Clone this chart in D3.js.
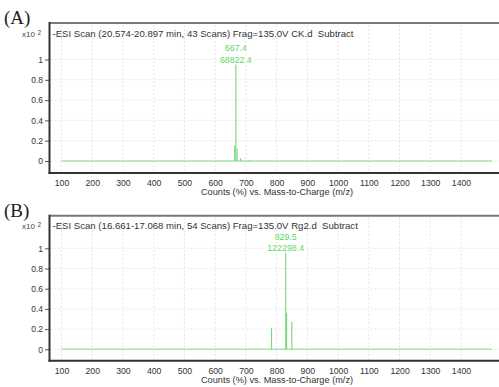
<!DOCTYPE html>
<html>
<head>
<meta charset="utf-8">
<script src="https://cdn.jsdelivr.net/npm/d3@7"></script>
<style>
  body { margin: 0; background: #fff; }
  svg { display: block; font-family: "Liberation Sans", Arial, sans-serif; }
</style>
</head>
<body>
<svg id="chart" width="499" height="387"></svg>
<script>
// m/z axis ticks and relative-abundance ticks (x10^2 %)
const mzTicks = [100, 200, 300, 400, 500, 600, 700, 800, 900, 1000, 1100, 1200, 1300, 1400];
const relTicks = [0, 0.2, 0.4, 0.6, 0.8, 1];
const mzRange = [100, 1500];

const panelLabels = ["(A)", "(B)"];
const scanTitles = [
  "-ESI Scan (20.574-20.897 min, 43 Scans) Frag=135.0V CK.d  Subtract",
  "-ESI Scan (16.661-17.068 min, 54 Scans) Frag=135.0V Rg2.d  Subtract"
];
const xAxisTitle = "Counts (%) vs. Mass-to-Charge (m/z)";

// Peak lists: m/z and absolute counts
const peakMzA = [663.4, 667.4, 671.4, 682.4, 711.4];
const peakCountsA = [10300, 68822.4, 8250, 2050, 700];
const peakMzB = [783.5, 829.5, 832.5, 849.5];
const peakCountsB = [25700, 122298.4, 44000, 33000];

const svg = d3.select("#chart");

// shared m/z scale
const x = d3.scaleLinear().domain([100, 1400]).range([61.5, 461]);

const panels = [
  { label: panelLabels[0], title: scanTitles[0], mz: peakMzA, counts: peakCountsA,
    top: 23, zero: 161, one: 59.5, axisY: 173 },
  { label: panelLabels[1], title: scanTitles[1], mz: peakMzB, counts: peakCountsB,
    top: 215.7, zero: 349.3, one: 248.3, axisY: 360.7 }
];

const plotLeft = 49.5, plotRight = 499;
const green = "#78d878";

panels.forEach(p => {
  const g = svg.append("g");
  const y = d3.scaleLinear().domain([0, 1]).range([p.zero, p.one]);

  // panel tag
  g.append("text")
    .attr("x", 4).attr("y", p.top + 1)
    .attr("font-family", "'Liberation Serif', 'Times New Roman', serif")
    .attr("font-size", 19).attr("fill", "#222")
    .text(p.label);

  // gridlines
  g.append("g").selectAll("line").data(mzTicks).join("line")
    .attr("x1", d => x(d)).attr("x2", d => x(d))
    .attr("y1", p.top + 2).attr("y2", p.axisY - 1)
    .attr("stroke", "#e4e4e4").attr("stroke-dasharray", "2,2");
  g.append("g").selectAll("line").data(relTicks).join("line")
    .attr("x1", plotLeft + 1).attr("x2", plotRight)
    .attr("y1", d => y(d)).attr("y2", d => y(d))
    .attr("stroke", "#e4e4e4").attr("stroke-dasharray", "2,2");

  // top frame line
  g.append("line")
    .attr("x1", plotLeft).attr("x2", plotRight)
    .attr("y1", p.top).attr("y2", p.top)
    .attr("stroke", "#7a7a7a").attr("stroke-width", 2);

  // y axis
  const yAxis = d3.axisLeft(y).tickValues(relTicks).tickSize(4).tickPadding(2)
    .tickFormat(d => d === 0 ? "0" : d3.format("~g")(d));
  const ya = g.append("g").attr("transform", `translate(${plotLeft - 0.5},0)`).call(yAxis);
  ya.select(".domain").remove();
  ya.selectAll(".tick line").attr("stroke", "#555");
  ya.selectAll(".tick text").attr("font-size", 8.5).attr("fill", "#333")
    .attr("font-family", "'Liberation Sans', Arial, sans-serif");

  // exponent label
  g.append("text").attr("x", 35).attr("y", p.top + 13.5)
    .attr("text-anchor", "end").attr("font-size", 8).attr("fill", "#444").text("x10");
  g.append("text").attr("x", 37.5).attr("y", p.top + 11.5)
    .attr("font-size", 6.5).attr("fill", "#444").text("2");

  // left and bottom axis lines
  g.append("line")
    .attr("x1", plotLeft).attr("x2", plotLeft)
    .attr("y1", p.top - 1).attr("y2", p.axisY + 1)
    .attr("stroke", "#333").attr("stroke-width", 2);
  g.append("line")
    .attr("x1", plotLeft - 1).attr("x2", plotRight)
    .attr("y1", p.axisY).attr("y2", p.axisY)
    .attr("stroke", "#333").attr("stroke-width", 2);

  // x axis labels
  const xAxis = d3.axisBottom(x).tickValues(mzTicks).tickSize(0).tickPadding(0)
    .tickFormat(d3.format("d"));
  const xa = g.append("g").attr("transform", `translate(0,${p.axisY + 13})`).call(xAxis);
  xa.select(".domain").remove();
  xa.selectAll(".tick text").attr("font-size", 8.7).attr("fill", "#333").attr("dy", 0)
    .attr("font-family", "'Liberation Sans', Arial, sans-serif");

  g.append("text")
    .attr("x", 277).attr("y", p.axisY + 22)
    .attr("text-anchor", "middle").attr("font-size", 9.2).attr("fill", "#333")
    .text(xAxisTitle);

  // scan title
  g.append("text")
    .attr("x", 52.5).attr("y", p.top + 13.5)
    .attr("font-size", 9.6).attr("fill", "#333")
    .style("white-space", "pre")
    .text(p.title);

  // spectrum: baseline and centroid sticks
  const maxCount = d3.max(p.counts);
  const peaks = p.mz.map((m, i) => ({ mz: m, count: p.counts[i], rel: p.counts[i] / maxCount }));

  g.append("path")
    .datum(mzRange)
    .attr("d", d3.line().x(d => x(d)).y(() => y(0)))
    .attr("stroke", "#a8e4a8").attr("stroke-width", 1.6).attr("fill", "none");

  g.append("g").selectAll("line").data(peaks).join("line")
    .attr("x1", d => x(d.mz)).attr("x2", d => x(d.mz))
    .attr("y1", y(0)).attr("y2", d => y(d.rel))
    .attr("stroke", green).attr("stroke-width", 1.1);

  // base peak annotation
  const base = peaks.find(d => d.count === maxCount);
  const lbl = g.append("g").attr("font-size", 8.8).attr("fill", "#5fd65f")
    .attr("text-anchor", "middle")
    .attr("stroke", "#fff").attr("stroke-width", 3).attr("paint-order", "stroke");
  lbl.append("text").attr("x", x(base.mz)).attr("y", y(1) - 8.5).text(d3.format(".1f")(base.mz));
  lbl.append("text").attr("x", x(base.mz)).attr("y", y(1) + 3).text(d3.format(".1f")(base.count));
});
</script>
</body>
</html>
